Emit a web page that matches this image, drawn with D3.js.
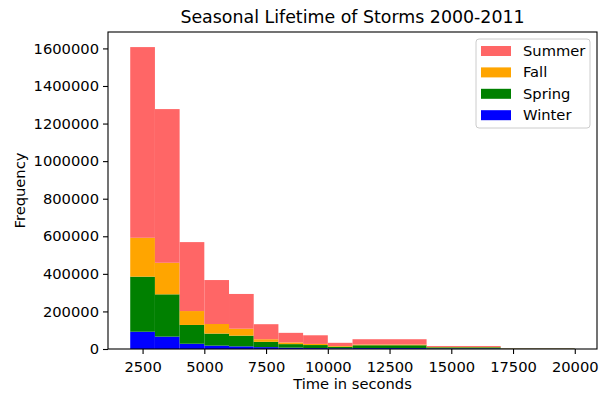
<!DOCTYPE html>
<html>
<head>
<meta charset="utf-8">
<script src="https://cdn.jsdelivr.net/npm/d3@7"></script>
<style>
  body { margin: 0; background: #fff; }
  text { font-family: "DejaVu Sans", sans-serif; fill: #000; }
</style>
</head>
<body>
<svg width="603" height="393"></svg>
<script>
// bin edges of the histogram (seconds)
var binEdges = [2000, 3000, 4000, 5000, 6000, 7000, 8000, 9000, 10000, 11000, 14000, 17000, 20000];

// counts per season in each bin, stacked bottom to top
var winter = [92000, 66000, 28000, 18000, 14000, 10000, 7000, 5000, 4000, 5000, 3000, 1000];
var spring = [293000, 225000, 100000, 64000, 57000, 28000, 19000, 16000, 8000, 15000, 6000, 2000];
var fall   = [207000, 168000, 74000, 51000, 37000, 14000, 9000, 6000, 4000, 4000, 2000, 1000];
var summer = [1015000, 818000, 367000, 234000, 185000, 80000, 51000, 46000, 17000, 28000, 5000, 1000];

var seasons = ["Winter", "Spring", "Fall", "Summer"];
var seasonColors = ["#0000ff", "#008000", "#ffa500", "#ff6666"];
var legendOrder = ["Summer", "Fall", "Spring", "Winter"];

var xTicks = [2500, 5000, 7500, 10000, 12500, 15000, 17500, 20000];
var yTicks = [0, 200000, 400000, 600000, 800000, 1000000, 1200000, 1400000, 1600000];

var svg = d3.select("svg"),
    width = +svg.attr("width"),
    height = +svg.attr("height");

var margin = {top: 32, right: 6, bottom: 44, left: 108};
var fs = "14.7px";

var rows = binEdges.slice(0, -1).map(function(d, i) {
  return {x0: d, x1: binEdges[i + 1], Winter: winter[i], Spring: spring[i], Fall: fall[i], Summer: summer[i]};
});

var stacked = d3.stack().keys(seasons)(rows);
var maxTotal = d3.max(stacked[stacked.length - 1], function(d) { return d[1]; });

var span = binEdges[binEdges.length - 1] - binEdges[0];
var x = d3.scaleLinear()
    .domain([binEdges[0] - span * 0.05, binEdges[binEdges.length - 1] + span * 0.05])
    .range([margin.left, width - margin.right]);

var y = d3.scaleLinear()
    .domain([0, maxTotal * 1.05])
    .range([height - margin.bottom, margin.top]);

var color = d3.scaleOrdinal().domain(seasons).range(seasonColors);

// bars
svg.append("g")
  .selectAll("g")
  .data(stacked)
  .enter().append("g")
    .attr("fill", function(d) { return color(d.key); })
  .selectAll("rect")
  .data(function(d) { return d; })
  .enter().append("rect")
    .attr("x", function(d) { return x(d.data.x0); })
    .attr("width", function(d) { return x(d.data.x1) - x(d.data.x0); })
    .attr("y", function(d) { return y(d[1]); })
    .attr("height", function(d) { return y(d[0]) - y(d[1]); });

// axes
var xAxis = svg.append("g")
    .attr("transform", "translate(0," + (height - margin.bottom) + ")")
    .call(d3.axisBottom(x).tickValues(xTicks).tickFormat(d3.format("d")).tickSize(5).tickPadding(4));

var yAxis = svg.append("g")
    .attr("transform", "translate(" + margin.left + ",0)")
    .call(d3.axisLeft(y).tickValues(yTicks).tickFormat(d3.format("d")).tickSize(5).tickPadding(4));

[xAxis, yAxis].forEach(function(a) {
  a.select(".domain").remove();
  a.selectAll("text").style("font-size", fs).attr("fill", "#000");
  a.selectAll("line").attr("stroke", "#000").attr("stroke-width", 1.1);
});
xAxis.selectAll("text").attr("dy", "0.95em");

// frame
svg.append("rect")
    .attr("x", margin.left)
    .attr("y", margin.top)
    .attr("width", width - margin.right - margin.left)
    .attr("height", height - margin.bottom - margin.top)
    .attr("fill", "none")
    .attr("stroke", "#000")
    .attr("stroke-width", 1.1);

// title + labels
svg.append("text")
    .attr("x", (margin.left + width - margin.right) / 2)
    .attr("y", 23)
    .attr("text-anchor", "middle")
    .style("font-size", "17.4px")
    .text("Seasonal Lifetime of Storms 2000-2011");

svg.append("text")
    .attr("x", (margin.left + width - margin.right) / 2)
    .attr("y", 389)
    .attr("text-anchor", "middle")
    .style("font-size", fs)
    .text("Time in seconds");

svg.append("text")
    .attr("transform", "translate(25," + ((margin.top + height - margin.bottom) / 2) + ") rotate(-90)")
    .attr("text-anchor", "middle")
    .style("font-size", fs)
    .text("Frequency");

// legend
var legend = svg.append("g").attr("transform", "translate(476,39)");
legend.append("rect")
    .attr("width", 114)
    .attr("height", 89)
    .attr("rx", 3)
    .attr("fill", "#fff")
    .attr("fill-opacity", 0.8)
    .attr("stroke", "#cccccc")
    .attr("stroke-width", 1);

var item = legend.selectAll(".item")
    .data(legendOrder)
  .enter().append("g")
    .attr("class", "item")
    .attr("transform", function(d, i) { return "translate(5," + (7 + i * 21.4) + ")"; });

item.append("rect")
    .attr("width", 30)
    .attr("height", 10)
    .attr("fill", function(d) { return color(d); });

item.append("text")
    .attr("x", 42)
    .attr("y", 10)
    .style("font-size", fs)
    .text(function(d) { return d; });
</script>
</body>
</html>
